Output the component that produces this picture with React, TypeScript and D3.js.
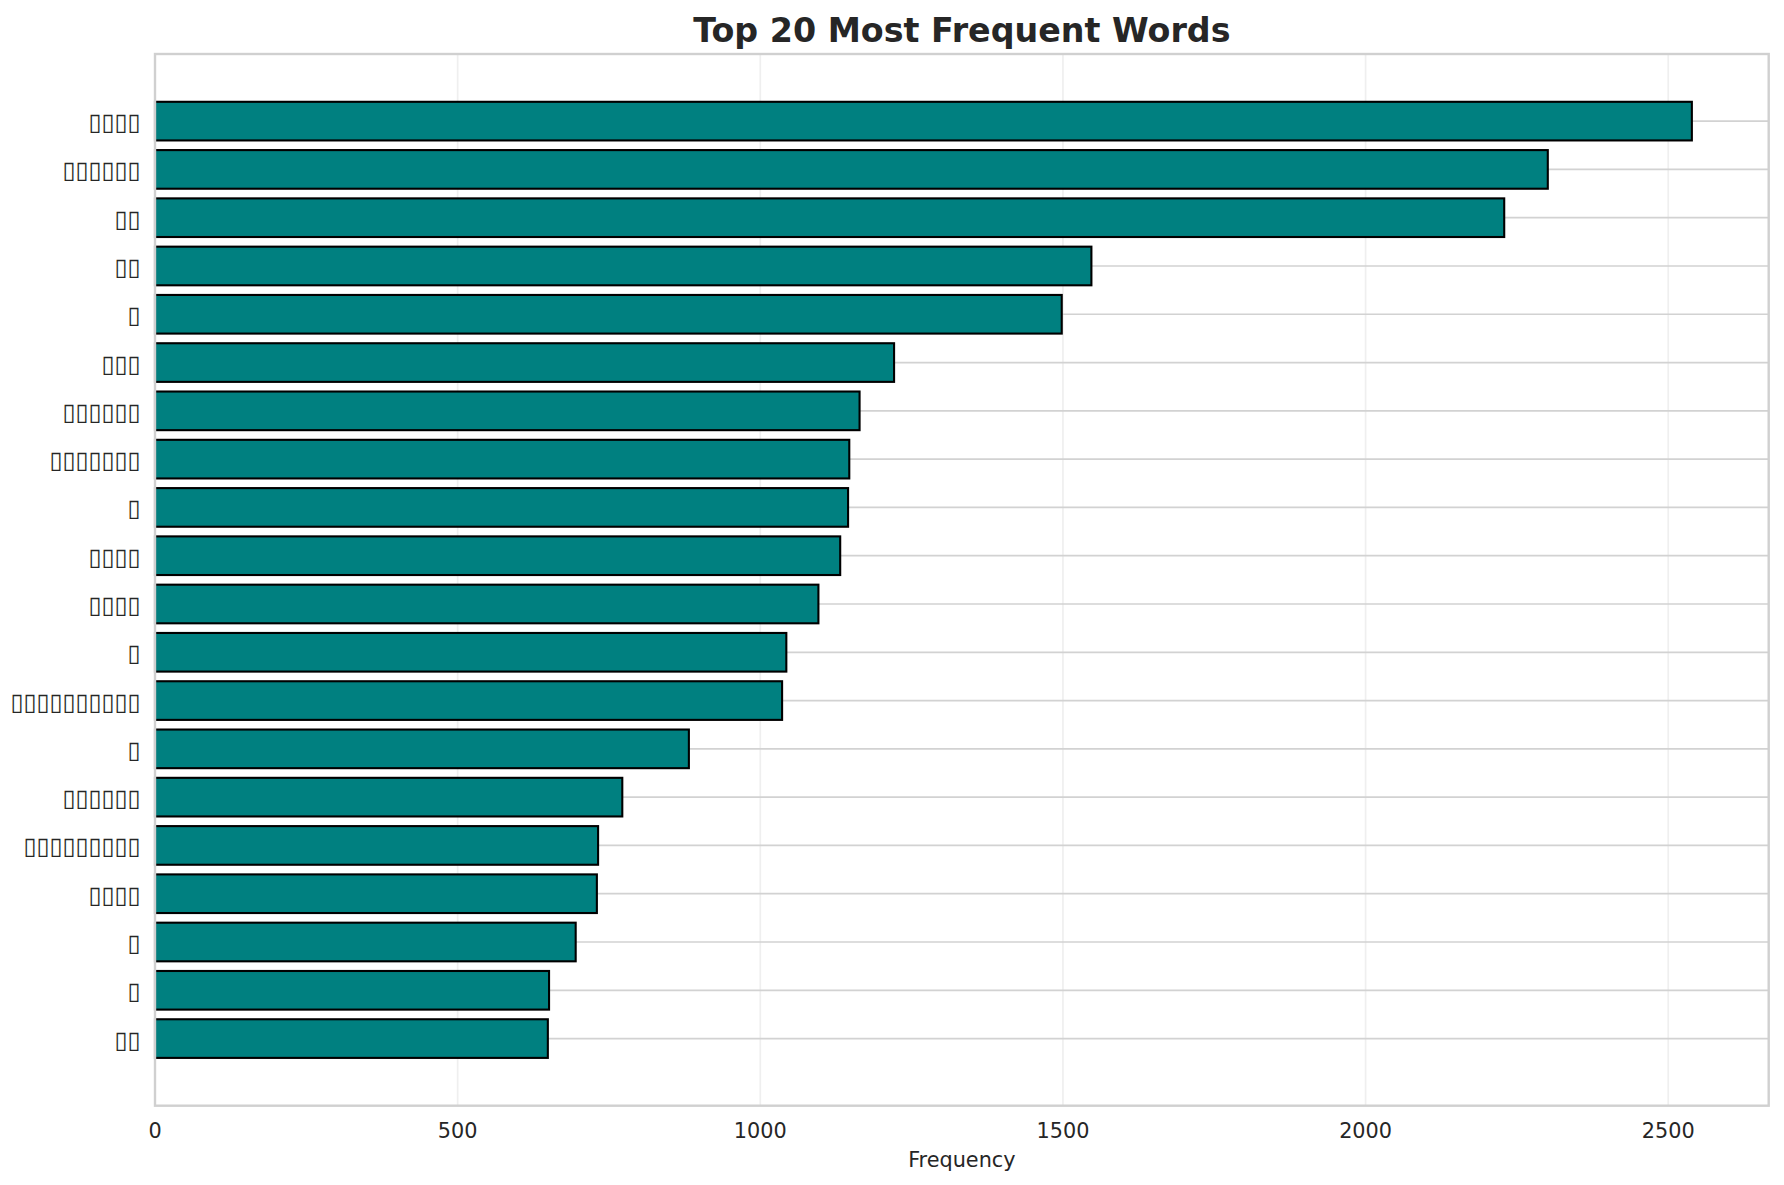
import React, { useEffect, useRef } from "react";
import { select, scaleLinear, max } from "d3";

// labels render as missing-glyph boxes in the source chart
const words = [
  "▯▯▯▯",
  "▯▯▯▯▯▯",
  "▯▯",
  "▯▯",
  "▯",
  "▯▯▯",
  "▯▯▯▯▯▯",
  "▯▯▯▯▯▯▯",
  "▯",
  "▯▯▯▯",
  "▯▯▯▯",
  "▯",
  "▯▯▯▯▯▯▯▯▯▯",
  "▯",
  "▯▯▯▯▯▯",
  "▯▯▯▯▯▯▯▯▯",
  "▯▯▯▯",
  "▯",
  "▯",
  "▯▯",
];
const frequencies = [
  2539, 2301, 2229, 1547, 1498, 1221, 1164, 1147, 1145, 1132, 1096, 1043, 1036,
  882, 772, 732, 730, 695, 651, 649,
];
const xTicks = [0, 500, 1000, 1500, 2000, 2500];

const W = 1784;
const H = 1185;
const FONT = "DejaVu Sans";
const TEXT = "#262626";

const App = () => {
  const svgRef = useRef<SVGSVGElement>(null);

  useEffect(() => {
    const svg = select(svgRef.current);
    svg.selectAll("*").remove();

    const left = 155;
    const right = 1768.7;
    const top = 54;
    const bottom = 1105.7;

    const xScale = scaleLinear()
      .domain([0, (max(frequencies) as number) * 1.05])
      .range([left, right]);

    // matplotlib barh limits: bars of height 0.8 plus 5% margins
    const n = words.length;
    const lo = -0.4;
    const hi = n - 1 + 0.4;
    const pad = (hi - lo) * 0.05;
    const yScale = scaleLinear()
      .domain([lo - pad, hi + pad])
      .range([top, bottom]);

    svg
      .append("rect")
      .attr("width", W)
      .attr("height", H)
      .attr("fill", "#fff");

    // vertical grid
    svg
      .append("g")
      .selectAll("line")
      .data(xTicks)
      .enter()
      .append("line")
      .attr("x1", (d) => xScale(d))
      .attr("x2", (d) => xScale(d))
      .attr("y1", top)
      .attr("y2", bottom)
      .attr("stroke", "#efefef")
      .attr("stroke-width", 1.7);

    // horizontal grid
    svg
      .append("g")
      .selectAll("line")
      .data(words)
      .enter()
      .append("line")
      .attr("x1", left)
      .attr("x2", right)
      .attr("y1", (_d, i) => yScale(i))
      .attr("y2", (_d, i) => yScale(i))
      .attr("stroke", "#d2d2d2")
      .attr("stroke-width", 1.7);

    svg
      .append("g")
      .selectAll("rect")
      .data(frequencies)
      .enter()
      .append("rect")
      .attr("x", xScale(0))
      .attr("y", (_d, i) => yScale(i - 0.4))
      .attr("width", (d) => xScale(d) - xScale(0))
      .attr("height", yScale(0.4) - yScale(-0.4))
      .attr("fill", "#008080")
      .attr("stroke", "#000")
      .attr("stroke-width", 2.1);

    // spines
    svg
      .append("rect")
      .attr("x", left)
      .attr("y", top)
      .attr("width", right - left)
      .attr("height", bottom - top)
      .attr("fill", "none")
      .attr("stroke", "#d0d0d0")
      .attr("stroke-width", 2.4);

    svg
      .append("g")
      .selectAll("text")
      .data(xTicks)
      .enter()
      .append("text")
      .attr("x", (d) => xScale(d))
      .attr("y", 1138)
      .attr("text-anchor", "middle")
      .attr("font-family", FONT)
      .attr("font-size", 20.8)
      .attr("fill", TEXT)
      .text((d) => String(d));

    svg
      .append("g")
      .selectAll("text")
      .data(words)
      .enter()
      .append("text")
      .attr("x", 140.4)
      .attr("y", (_d, i) => yScale(i) + 9)
      .attr("text-anchor", "end")
      .attr("font-family", FONT)
      .attr("font-size", 23.6)
      .attr("fill", TEXT)
      .text((d) => d);

    svg
      .append("text")
      .attr("x", (left + right) / 2)
      .attr("y", 42)
      .attr("text-anchor", "middle")
      .attr("font-family", FONT)
      .attr("font-weight", "bold")
      .attr("font-size", 33.3)
      .attr("fill", TEXT)
      .text("Top 20 Most Frequent Words");

    svg
      .append("text")
      .attr("x", (left + right) / 2)
      .attr("y", 1166.7)
      .attr("text-anchor", "middle")
      .attr("font-family", FONT)
      .attr("font-size", 20.8)
      .attr("fill", TEXT)
      .text("Frequency");
  }, []);

  return (
    <svg
      ref={svgRef}
      width={W}
      height={H}
      style={{ position: "absolute", left: 0, top: 0, display: "block" }}
    ></svg>
  );
};

export default App;
